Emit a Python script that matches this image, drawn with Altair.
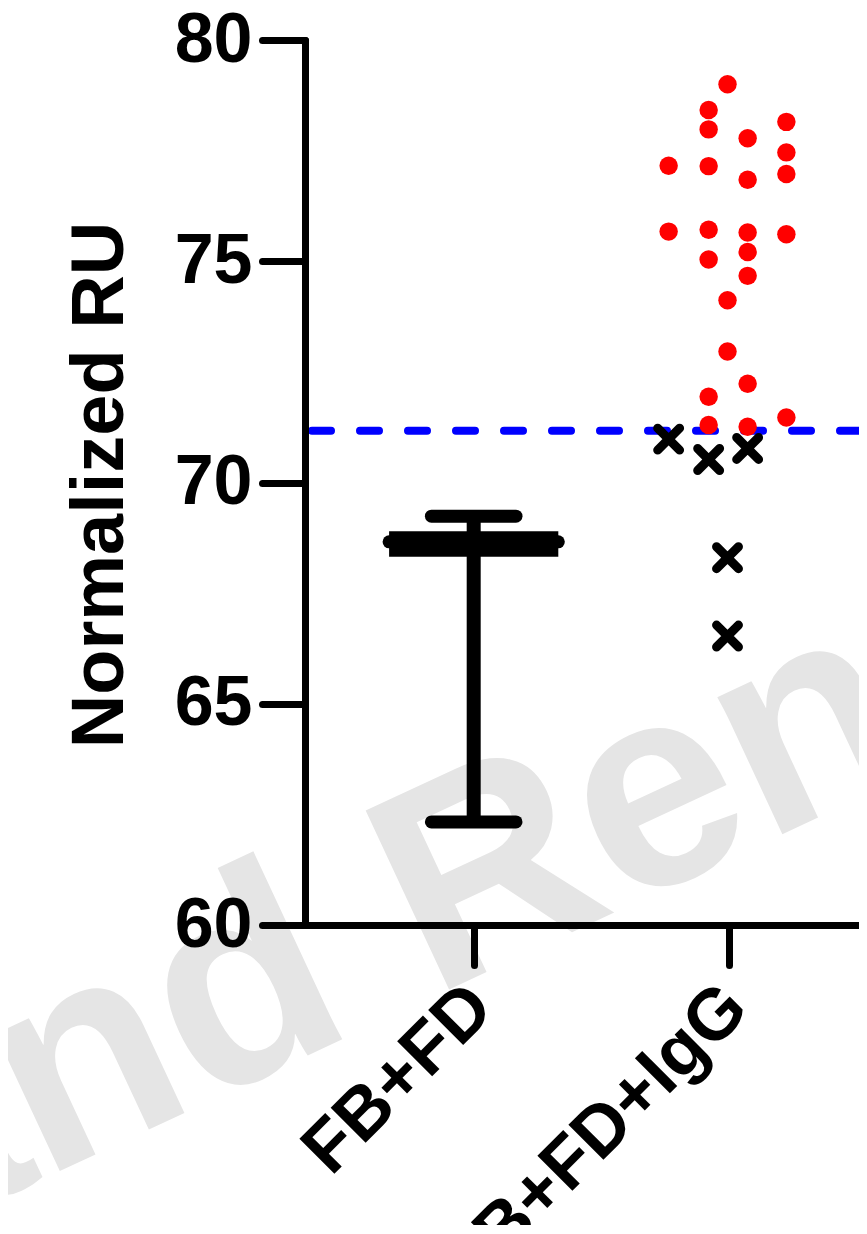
import altair as alt
import pandas as pd

# ---------------- data ----------------
categories = ["FB+FD", "FB+FD+IgG"]

# FB+FD summary (mean band and error bar)
fbfd_mean = 68.66
fbfd_band_low = 68.32
fbfd_band_high = 68.90
fbfd_err_low = 62.33
fbfd_err_high = 69.24

# FB+FD+IgG individual values (red = above threshold)
igg_above = [79.00, 78.42, 77.98, 78.15, 77.78, 77.16, 77.15, 77.46, 76.84, 76.97,
             75.67, 75.71, 75.65, 75.61, 75.04, 75.21, 74.67, 74.12, 72.96, 72.23,
             71.94, 71.47, 71.30, 71.26]
igg_above_jitter = [-0.004, -0.078, -0.078, 0.227, 0.075, -0.235, -0.078, 0.227, 0.075, 0.227,
                    -0.235, -0.078, 0.075, 0.227, -0.078, 0.075, 0.075, -0.004, -0.004, 0.075,
                    -0.078, 0.227, -0.078, 0.075]
igg_below = [70.98, 70.52, 70.77, 68.30, 66.53]
igg_below_jitter = [-0.235, -0.078, 0.075, -0.004, -0.004]

threshold = 71.17
y_ticks = [60, 65, 70, 75, 80]
watermark = "and Ren"

# ---------------- tables ----------------
above_df = pd.DataFrame({"x": [1 + j for j in igg_above_jitter], "y": igg_above})
below_df = pd.DataFrame({"x": [1 + j for j in igg_below_jitter], "y": igg_below})
band_df = pd.DataFrame({"x": [0 - 0.332], "x2": [0 + 0.332],
                        "y": [fbfd_band_low], "y2": [fbfd_band_high]})
mean_df = pd.DataFrame({"x": [0 - 0.332], "x2": [0 + 0.332], "y": [fbfd_mean]})
caps_df = pd.DataFrame({"x": [-0.166, -0.166], "x2": [0.166, 0.166],
                        "y": [fbfd_err_high, fbfd_err_low]})
stem_df = pd.DataFrame({"x": [0], "y": [fbfd_err_low], "y2": [fbfd_err_high]})
thr_df = pd.DataFrame({"y": [threshold]})
wm_df = pd.DataFrame({"t": [watermark]})

font = "Liberation Sans"
xdom = [-0.662, 1.512]
label_expr = "datum.value == 0 ? '" + categories[0] + "' : (datum.value == 1 ? '" + categories[1] + "' : '')"

x_enc = alt.X("x:Q", scale=alt.Scale(domain=xdom, nice=False, zero=False),
              axis=alt.Axis(values=[0, 1], labelExpr=label_expr, title=None,
                            labelAngle=315, labelAlign="right", labelBaseline="top",
                            labelFontSize=72, labelFont=font, labelFontWeight="bold",
                            labelColor="black", labelPadding=6, labelOffset=-18, labelLimit=0,
                            tickSize=40, tickWidth=7, tickColor="black", tickCap="round",
                            domainColor="black", domainWidth=7, domainCap="round",
                            grid=False, zindex=1, labelFlush=False, labelOverlap=False,
                            labelBound=False))
y_enc = alt.Y("y:Q", scale=alt.Scale(domain=[60, 80], nice=False, zero=False),
              axis=alt.Axis(values=y_ticks, title="Normalized RU",
                            titleFont=font, titleFontSize=74, titleFontWeight="bold",
                            titleColor="black", titleAngle=270, titleAlign="center",
                            titleBaseline="alphabetic", titleX=-183, titleY=444.5,
                            labelFontSize=70, labelFont=font, labelFontWeight="bold",
                            labelColor="black", labelPadding=10, labelLimit=0,
                            tickSize=43, tickWidth=7, tickColor="black", tickCap="round",
                            domainColor="black", domainWidth=7, domainCap="round",
                            grid=False, zindex=1, labelFlush=False, labelOverlap=False))

wm = alt.Chart(wm_df).mark_text(
    font=font, fontWeight="bold", fontSize=287, color="#e5e5e5",
    angle=335, align="left", baseline="alphabetic"
).encode(text="t:N", x=alt.value(-408), y=alt.value(1207))

thr = alt.Chart(thr_df).mark_rule(
    color="#0000ff", strokeWidth=8, strokeDash=[19, 29], strokeCap="round"
).encode(y=alt.Y("y:Q", scale=alt.Scale(domain=[60, 80], nice=False, zero=False)))

band = alt.Chart(band_df).mark_rect(color="black").encode(
    x=x_enc, x2="x2:Q", y=y_enc, y2="y2:Q")
mean = alt.Chart(mean_df).mark_rule(color="black", strokeWidth=13, strokeCap="round").encode(
    x=x_enc, x2="x2:Q", y=y_enc)
caps = alt.Chart(caps_df).mark_rule(color="black", strokeWidth=13, strokeCap="round").encode(
    x=x_enc, x2="x2:Q", y=y_enc)
stem = alt.Chart(stem_df).mark_rule(color="black", strokeWidth=14).encode(
    x=x_enc, y=y_enc, y2="y2:Q")

red = alt.Chart(above_df).mark_point(
    shape="circle", filled=True, color="#ff0000", size=340, opacity=1
).encode(x=x_enc, y=y_enc)
crosses = alt.Chart(below_df).mark_point(
    shape="M-1,-1L1,1M-1,1L1,-1", filled=False, color="black", size=480,
    strokeWidth=9, strokeCap="round", opacity=1
).encode(x=x_enc, y=y_enc)

chart = alt.layer(wm, thr, band, mean, caps, stem, red, crosses).properties(
    width=554, height=885,
    autosize=alt.AutoSizeParams(type="none"),
    padding={"left": 297, "top": 32, "right": 0, "bottom": 300},
    background="white",
).configure_view(stroke=None)

chart.save("out.html", embed_options={"renderer": "svg", "actions": False})
